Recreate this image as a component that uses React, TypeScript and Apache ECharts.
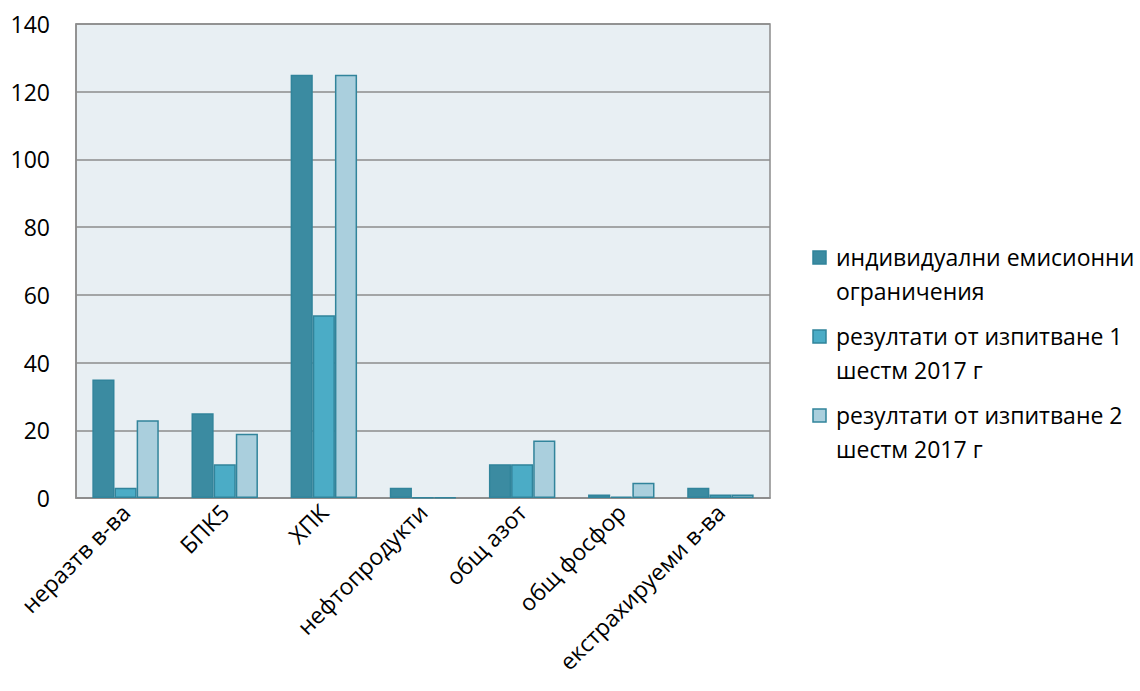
import React, { useEffect, useRef } from "react";
import * as echarts from "echarts";

const categories = ["неразтв в-ва", "БПК5", "ХПК", "нефтопродукти", "общ азот", "общ фосфор", "екстрахируеми в-ва"];
const seriesNames = [
  "индивидуални емисионни\nограничения",
  "резултати от изпитване 1\nшестм 2017 г",
  "резултати от изпитване 2\nшестм 2017 г",
];
const limits = [35, 25, 125, 3, 10, 1, 3];
const test1 = [3, 10, 54, 0.2, 10, 0.4, 1];
const test2 = [23, 19, 125, 0.2, 17, 4.5, 1];
const yTicks = [0, 20, 40, 60, 80, 100, 120, 140];

const colors = ["#3B8BA1", "#4BACC6", "#AACFDD"];
const border = "#31849B";
const FONT = "'Open Sans', sans-serif";

export default function App() {
  const ref = useRef<HTMLDivElement>(null);
  useEffect(() => {
    const chart = echarts.init(ref.current!, null, { renderer: "svg" });
    const data = [limits, test1, test2];
    const legendGraphics: any[] = [];
    seriesNames.forEach((name, i) => {
      const y0 = 258 + i * 79;
      legendGraphics.push({
        type: "rect",
        shape: { x: 813, y: y0 - 7, width: 13, height: 13 },
        style: { fill: colors[i], stroke: border, lineWidth: 1.5 },
      });
      legendGraphics.push({
        type: "text",
        x: 836,
        y: y0 - 18,
        style: {
          text: name,
          font: `23px ${FONT}`,
          fill: "#000",
          lineHeight: 34,
          verticalAlign: "top",
        },
      });
    });
    chart.setOption({
      animation: false,
      backgroundColor: "#fff",
      textStyle: { fontFamily: FONT },
      grid: {
        left: 76,
        right: 370,
        top: 24,
        bottom: 193,
        show: true,
        backgroundColor: "#E8EFF3",
        borderColor: "#8C8C8C",
        borderWidth: 1.5,
      },
      xAxis: {
        type: "category",
        data: categories,
        axisLine: { lineStyle: { color: "#8C8C8C", width: 1.5 } },
        axisTick: { show: false },
        axisLabel: {
          rotate: 45,
          interval: 0,
          color: "#000",
          fontSize: 23,
          fontFamily: FONT,
          margin: 10,
        },
      },
      yAxis: {
        type: "value",
        min: 0,
        max: 140,
        interval: 20,
        axisLine: { show: true, lineStyle: { color: "#8C8C8C", width: 1.5 } },
        axisTick: { show: false },
        splitLine: { lineStyle: { color: "#8C8C8C", width: 1.5 } },
        axisLabel: {
          color: "#000",
          fontSize: 23,
          fontFamily: FONT,
          margin: 26,
          formatter: (v: number) => (yTicks.includes(v) ? String(v) : ""),
        },
      },
      series: seriesNames.map((name, i) => ({
        type: "bar",
        name,
        data: data[i],
        barGap: "0%",
        barCategoryGap: "33%",
        itemStyle: { color: colors[i], borderColor: border, borderWidth: 1.5 },
      })),
      graphic: legendGraphics,
    });
    return () => chart.dispose();
  }, []);
  return <div ref={ref} style={{ width: 1140, height: 691, position: "absolute", left: 0, top: 0 }} />;
}
